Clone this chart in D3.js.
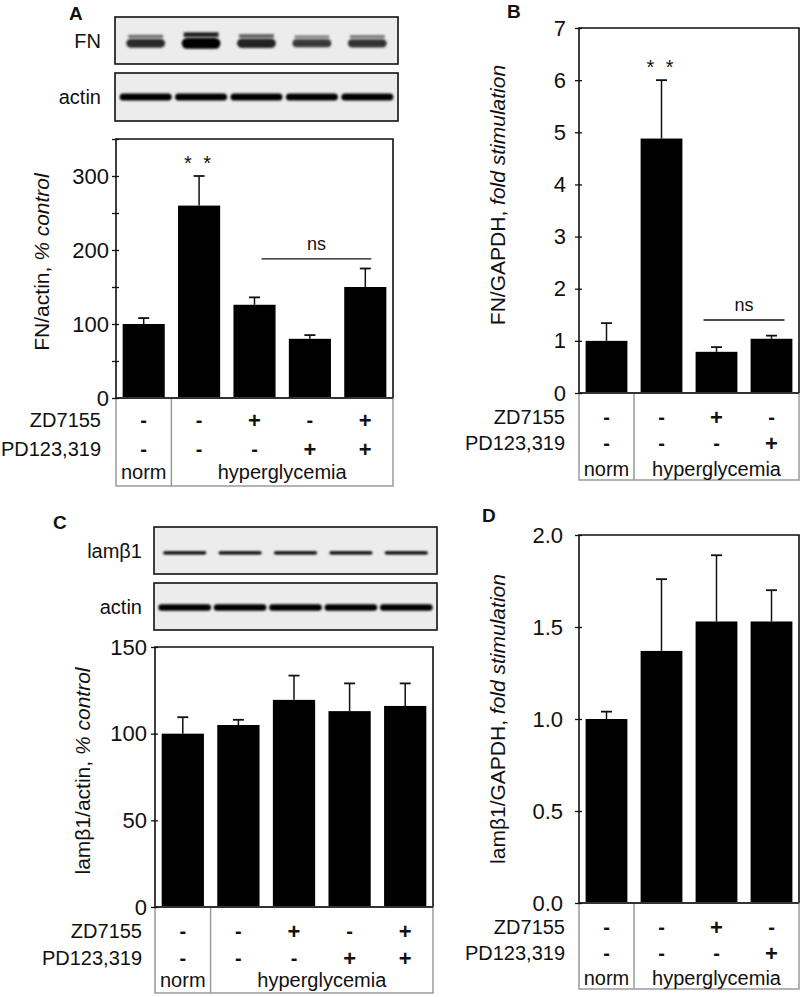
<!DOCTYPE html>
<html>
<head>
<meta charset="utf-8">
<script src="https://cdn.jsdelivr.net/npm/d3@7"></script>
<style>
  html, body { margin: 0; padding: 0; background: #fff; }
  svg { display: block; font-family: "Liberation Sans", Arial, Helvetica, sans-serif; }
</style>
</head>
<body>
<svg id="fig" width="800" height="997"></svg>
<script>
// ---------------- data ----------------
const lanes5 = ["norm", "HG", "HG+ZD", "HG+PD", "HG+ZD+PD"];
const lanes4 = ["norm", "HG", "HG+ZD", "HG+PD"];
const zd5 = ["-", "-", "+", "-", "+"];
const pd5 = ["-", "-", "-", "+", "+"];
const zd4 = ["-", "-", "+", "-"];
const pd4 = ["-", "-", "-", "+"];
const rowLabels = ["ZD7155", "PD123,319"];
const groupLabels = ["norm", "hyperglycemia"];

// Panel A: FN/actin, % control
const fnActin = [100, 260, 126, 80, 150];
const fnActinErr = [8, 40, 10, 5, 25];
const ticksA = [0, 50, 100, 150, 200, 250, 300, 350];
const tickLabelsA = [0, 100, 200, 300];

// Panel B: FN/GAPDH, fold stimulation
const fnGapdh = [1.0, 4.88, 0.79, 1.04];
const fnGapdhErr = [0.34, 1.12, 0.09, 0.06];
const ticksB = [0, 1, 2, 3, 4, 5, 6, 7];

// Panel C: lamβ1/actin, % control
const lamActin = [100, 105, 119.5, 113, 116];
const lamActinErr = [9.5, 3, 14, 16, 13];
const ticksC = [0, 50, 100, 150];

// Panel D: lamβ1/GAPDH, fold stimulation
const lamGapdh = [1.0, 1.37, 1.53, 1.53];
const lamGapdhErr = [0.04, 0.39, 0.36, 0.17];
const ticksD = [0, 0.5, 1.0, 1.5, 2.0];

// Western blot band intensities (relative)
const blotFN = [0.6, 1.0, 0.7, 0.5, 0.55];
const blotActinA = [1, 1, 1, 1, 1];
const blotLam = [1, 1, 1, 1, 1];
const blotActinC = [1, 1, 1, 1, 1];

// ---------------- drawing ----------------
const svg = d3.select("#fig");
const INK = "#111";
const GRID = "#9a9a9a";

const defs = svg.append("defs");
defs.append("filter").attr("id", "blur").attr("x", "-20%").attr("y", "-100%").attr("width", "140%").attr("height", "300%")
  .append("feGaussianBlur").attr("stdDeviation", 0.9);

function panelLetter(txt, x, y) {
  svg.append("text").attr("x", x).attr("y", y).text(txt)
    .attr("font-size", 19).attr("font-weight", "bold").attr("fill", INK);
}

function drawBlot(cfg) {
  const g = svg.append("g");
  g.append("rect").attr("x", cfg.x0).attr("y", cfg.y0).attr("width", cfg.x1 - cfg.x0).attr("height", cfg.y1 - cfg.y0)
    .attr("fill", "#ececec").attr("stroke", INK).attr("stroke-width", 1.6);
  g.append("text").attr("x", cfg.labelX).attr("y", (cfg.y0 + cfg.y1) / 2).attr("text-anchor", "end")
    .attr("dominant-baseline", "central").attr("font-size", 20).attr("fill", INK).text(cfg.label);
  const xb = d3.scaleBand().domain(d3.range(cfg.values.length)).range([cfg.x0 + 3, cfg.x1 - 3]).paddingInner(cfg.gap).paddingOuter(cfg.gap / 2);
  const cy = cfg.y0 + (cfg.y1 - cfg.y0) * cfg.bandPos;
  const bands = g.append("g").attr("filter", "url(#blur)");
  cfg.values.forEach((v, i) => {
    const h = cfg.h * (0.6 + 0.6 * v);
    bands.append("rect").attr("x", xb(i)).attr("y", cy - h / 2).attr("width", xb.bandwidth()).attr("height", h)
      .attr("rx", Math.min(h / 2, 6)).attr("fill", d3.interpolateGreys(0.65 + 0.35 * v));
    if (cfg.upper) {
      const hu = cfg.h * 0.4 * v;
      bands.append("rect").attr("x", xb(i) + 2).attr("y", cy - h / 2 - hu - 2).attr("width", xb.bandwidth() - 4).attr("height", hu + 1)
        .attr("fill", d3.interpolateGreys(0.3 + 0.6 * v));
    }
  });
}

function drawPanel(cfg) {
  const g = svg.append("g");
  const n = cfg.values.length;
  const x = d3.scaleBand().domain(d3.range(n)).range([cfg.left, cfg.right]).paddingInner(0.24).paddingOuter(0.12);
  const y = d3.scaleLinear().domain(cfg.domain).range([cfg.bottom, cfg.top]);
  const step = x.step();

  // table (drawn first so axis overlays it)
  const tb = cfg.bottom + cfg.tableH;
  g.append("path").attr("d", `M${cfg.left},${cfg.bottom}V${tb}H${cfg.right}V${cfg.bottom}`)
    .attr("fill", "none").attr("stroke", GRID).attr("stroke-width", 1.5);
  const divX = x(1) - x.paddingInner() * step / 2;
  g.append("line").attr("x1", divX).attr("x2", divX).attr("y1", cfg.bottom).attr("y2", tb)
    .attr("stroke", GRID).attr("stroke-width", 1.5);

  const rows = [cfg.zd, cfg.pd];
  rows.forEach((r, ri) => {
    const ry = cfg.bottom + cfg.rowY[ri];
    g.append("text").attr("x", cfg.rowLabelX).attr("y", ry).attr("text-anchor", "end").attr("dominant-baseline", "central")
      .attr("font-size", 20).attr("fill", INK).text(rowLabels[ri]);
    r.forEach((s, i) => {
      g.append("text").attr("x", x(i) + x.bandwidth() / 2).attr("y", ry).attr("text-anchor", "middle")
        .attr("dominant-baseline", "central").attr("font-size", s === "+" ? 22 : 20).attr("font-weight", "bold")
        .attr("fill", INK).text(s);
    });
  });
  const gy = cfg.bottom + cfg.rowY[2];
  g.append("text").attr("x", (cfg.left + divX) / 2).attr("y", gy).attr("text-anchor", "middle").attr("dominant-baseline", "central")
    .attr("font-size", 20).attr("fill", INK).text(groupLabels[0]);
  g.append("text").attr("x", (divX + cfg.right) / 2).attr("y", gy).attr("text-anchor", "middle").attr("dominant-baseline", "central")
    .attr("font-size", 20).attr("fill", INK).text(groupLabels[1]);

  // bars
  g.selectAll("rect.bar").data(cfg.values).join("rect").attr("class", "bar")
    .attr("x", (d, i) => x(i)).attr("width", x.bandwidth())
    .attr("y", d => y(d)).attr("height", d => cfg.bottom - y(d)).attr("fill", "#000");

  // error bars (upper only)
  cfg.values.forEach((v, i) => {
    const cx = x(i) + x.bandwidth() / 2;
    const yt = y(v + cfg.errors[i]);
    g.append("line").attr("x1", cx).attr("x2", cx).attr("y1", y(v)).attr("y2", yt).attr("stroke", INK).attr("stroke-width", 1.5);
    g.append("line").attr("x1", cx - 5.5).attr("x2", cx + 5.5).attr("y1", yt).attr("y2", yt).attr("stroke", INK).attr("stroke-width", 1.8);
  });

  // frame
  g.append("path").attr("d", `M${cfg.left},${cfg.bottom}V${cfg.top}H${cfg.right}V${cfg.bottom}`)
    .attr("fill", "none").attr("stroke", INK).attr("stroke-width", 1.6);
  g.append("line").attr("x1", cfg.left).attr("x2", cfg.right).attr("y1", cfg.bottom).attr("y2", cfg.bottom)
    .attr("stroke", "#333").attr("stroke-width", 1.8);

  // y axis
  const axis = d3.axisLeft(y).tickValues(cfg.ticks).tickSize(4).tickPadding(cfg.tickPad)
    .tickFormat(d => (cfg.tickLabels ? (cfg.tickLabels.includes(d) ? cfg.fmt(d) : "") : cfg.fmt(d)));
  const ga = g.append("g").attr("transform", `translate(${cfg.left},0)`).call(axis);
  ga.select(".domain").remove();
  ga.selectAll(".tick line").attr("x2", -4).attr("x1", 3).attr("stroke", INK).attr("stroke-width", 1.3);
  ga.selectAll(".tick text").attr("font-size", 22).attr("fill", INK).attr("font-family", "Liberation Sans, Arial, sans-serif");

  // y title
  const tt = g.append("text").attr("transform", `translate(${cfg.titleX},${cfg.titleY}) rotate(-90)`)
    .attr("text-anchor", "middle").attr("dominant-baseline", "central").attr("font-size", 21).attr("fill", INK);
  tt.append("tspan").text(cfg.title[0]);
  tt.append("tspan").attr("font-style", "italic").text(cfg.title[1]);

  // significance
  if (cfg.stars) {
    const s = cfg.stars;
    g.append("text").attr("x", x(s.i) + x.bandwidth() / 2).attr("y", y(cfg.values[s.i] + cfg.errors[s.i]) - s.dy)
      .attr("text-anchor", "middle").attr("font-size", 20).attr("fill", INK).attr("letter-spacing", 3).text("* *");
  }
  if (cfg.ns) {
    const s = cfg.ns;
    const x0 = x(s.from) + x.bandwidth() / 2 + s.dx0;
    const x1 = x(s.to) + x.bandwidth() / 2 + s.dx1;
    g.append("line").attr("x1", x0).attr("x2", x1).attr("y1", y(s.value)).attr("y2", y(s.value)).attr("stroke", INK).attr("stroke-width", 1.3);
    g.append("text").attr("x", (x0 + x1) / 2).attr("y", y(s.value) - 9).attr("text-anchor", "middle")
      .attr("font-size", 18).attr("fill", INK).text("ns");
  }
}

// ---- Panel A ----
panelLetter("A", 69, 20);
drawBlot({ x0: 115, x1: 398, y0: 17, y1: 64, label: "FN", labelX: 101, values: blotFN, gap: 0.3, bandPos: 0.56, h: 9, upper: true });
drawBlot({ x0: 115, x1: 398, y0: 73, y1: 121, label: "actin", labelX: 101, values: blotActinA, gap: 0.06, bandPos: 0.5, h: 6 });
drawPanel({
  values: fnActin, errors: fnActinErr, domain: [0, 350], ticks: ticksA, tickLabels: tickLabelsA, fmt: d3.format("d"),
  left: 116, right: 393, top: 139, bottom: 398, tableH: 88, rowY: [22, 51, 74], rowLabelX: 101, tickPad: 3,
  zd: zd5, pd: pd5, title: ["FN/actin, ", "% control"], titleX: 41, titleY: 262,
  stars: { i: 1, dy: 6 }, ns: { from: 2, to: 4, dx0: 7, dx1: 6, value: 188 }
});

// ---- Panel B ----
panelLetter("B", 507, 18);
drawPanel({
  values: fnGapdh, errors: fnGapdhErr, domain: [0, 7], ticks: ticksB, fmt: d3.format("d"),
  left: 579, right: 799, top: 28, bottom: 393, tableH: 87, rowY: [24, 50, 76], rowLabelX: 565, tickPad: 9,
  zd: zd4, pd: pd4, title: ["FN/GAPDH, ", "fold stimulation"], titleX: 497, titleY: 195,
  stars: { i: 1, dy: 6 }, ns: { from: 2, to: 3, dx0: -13, dx1: 13, value: 1.4 }
});

// ---- Panel C ----
panelLetter("C", 53, 529);
drawBlot({ x0: 154, x1: 437, y0: 527, y1: 574, label: "lamβ1", labelX: 142, values: blotLam, gap: 0.22, bandPos: 0.55, h: 2.8 });
drawBlot({ x0: 154, x1: 437, y0: 583, y1: 630, label: "actin", labelX: 142, values: blotActinC, gap: 0.05, bandPos: 0.52, h: 5.5 });
drawPanel({
  values: lamActin, errors: lamActinErr, domain: [0, 150], ticks: ticksC, fmt: d3.format("d"),
  left: 155, right: 433, top: 647, bottom: 907, tableH: 86, rowY: [24, 51, 73], rowLabelX: 142, tickPad: 4,
  zd: zd5, pd: pd5, title: ["lamβ1/actin, ", "% control"], titleX: 82, titleY: 771
});

// ---- Panel D ----
panelLetter("D", 482, 522);
drawPanel({
  values: lamGapdh, errors: lamGapdhErr, domain: [0, 2], ticks: ticksD, fmt: d3.format(".1f"),
  left: 579, right: 799, top: 535, bottom: 903, tableH: 86, rowY: [24, 50, 75], rowLabelX: 565, tickPad: 12,
  zd: zd4, pd: pd4, title: ["lamβ1/GAPDH, ", "fold stimulation"], titleX: 497, titleY: 719
});
</script>
</body>
</html>
